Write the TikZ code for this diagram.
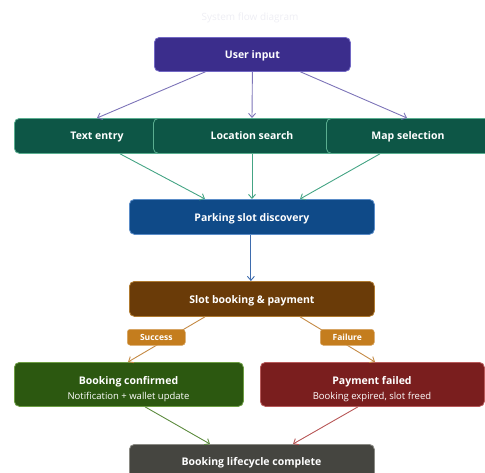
\documentclass[tikz,border=0pt]{standalone}
\usepackage{fontspec}
\setmainfont{Open Sans}
\usetikzlibrary{arrows.meta,calc}
\definecolor{cUser}{HTML}{3B2D8C}
\definecolor{cUserB}{HTML}{7268C4}
\definecolor{cTeal}{HTML}{0D5646}
\definecolor{cTealB}{HTML}{5AAE90}
\definecolor{cBlue}{HTML}{0F4A88}
\definecolor{cBlueB}{HTML}{5A8CC8}
\definecolor{cBrown}{HTML}{6A3B08}
\definecolor{cBrownB}{HTML}{B07A30}
\definecolor{cOrange}{HTML}{C47D1E}
\definecolor{cGreen}{HTML}{2C5810}
\definecolor{cGreenB}{HTML}{6E9E44}
\definecolor{cRed}{HTML}{7A1E1E}
\definecolor{cRedB}{HTML}{B85A5A}
\definecolor{cGray}{HTML}{454540}
\definecolor{cGrayB}{HTML}{8A8A84}
\definecolor{aUser}{HTML}{7D74B8}
\definecolor{aTeal}{HTML}{44A484}
\definecolor{aBlue}{HTML}{3E6CAE}
\definecolor{aOrange}{HTML}{C48A44}
\definecolor{aGreen}{HTML}{5E8C40}
\definecolor{aRed}{HTML}{B85858}
\definecolor{cTitle}{HTML}{EEEEF4}
\tikzset{
  box/.style={draw=#1, rounded corners=5pt, line width=0.8pt, text=white, font=\fontsize{10.5}{12}\selectfont\bfseries, inner sep=0pt, anchor=north west, text height=8.5pt, text depth=0pt},
  lbl/.style={text=white, font=\fontsize{10.5}{12}\selectfont\bfseries, inner sep=0pt, text height=8.5pt, text depth=0pt},
  sub/.style={text=white, font=\fontsize{9.5}{11}\selectfont, inner sep=0pt, text height=7.5pt, text depth=0pt},
  tag/.style={fill=cOrange, draw=cOrange!70!white, rounded corners=3pt, text=white, font=\fontsize{8.5}{10}\selectfont\bfseries, inner sep=0pt, anchor=north west, line width=0.5pt, text height=6.5pt, text depth=0.5pt},
  conn/.style={draw=#1, line width=0.9pt, -{Straight Barb[length=4pt,width=7pt]}},
}
\begin{document}
\begin{tikzpicture}[x=1pt,y=-1pt]
\useasboundingbox (0,0) rectangle (485,472);
\node[text=cTitle, font=\fontsize{10}{12}\selectfont] (title) at (250,17.5) {System flow diagram};
\node[box=cUserB, fill=cUser, minimum width=196pt, minimum height=34pt] (user) at (154,37) {User input};
\node[box=cTealB, fill=cTeal, minimum width=160pt, minimum height=35pt] (text) at (14,118) {};
\node[box=cTealB, fill=cTeal, minimum width=190pt, minimum height=35pt] (loc) at (153,118) {};
\node[box=cTealB, fill=cTeal, minimum width=175pt, minimum height=35pt] (map) at (326,118) {};
\node[lbl] (textL) at (97,135.5) {Text entry};
\node[lbl] (locL) at (252,135.5) {Location search};
\node[lbl] (mapL) at (408,135.5) {Map selection};
\node[box=cBlueB, fill=cBlue, minimum width=245pt, minimum height=35pt] (park) at (129,199) {Parking slot discovery};
\node[box=cBrownB, fill=cBrown, minimum width=245pt, minimum height=35pt] (slot) at (129,281) {Slot booking \& payment};
\node[box=cGreenB, fill=cGreen, minimum width=229pt, minimum height=44pt] (conf) at (14,362) {};
\node[lbl] (confL) at (128.5,380) {Booking confirmed};
\node[sub] (confS) at (128.5,395.5) {Notification + wallet update};
\node[box=cRedB, fill=cRed, minimum width=224pt, minimum height=44pt] (pfail) at (260,362) {};
\node[lbl] (pfailL) at (372,380) {Payment failed};
\node[sub] (pfailS) at (372,395.5) {Booking expired, slot freed};
\node[box=cGrayB, fill=cGray, minimum width=245pt, minimum height=36pt] (life) at (129,444) {};
\node[lbl] (lifeL) at (251.5,461) {Booking lifecycle complete};
% connectors
\draw[conn=aUser] ($(user.south)+(-47,0)$) -- ($(text.north west)+(83,0)$);
\draw[conn=aUser] (user.south) -- ($(loc.north west)+(99,0)$);
\draw[conn=aUser] ($(user.south)+(48,0)$) -- ($(map.north west)+(81,0)$);
\draw[conn=aTeal] ($(text.south west)+(106,0)$) -- ($(park.north west)+(76,0)$);
\draw[conn=aTeal] ($(loc.south west)+(99,0)$) -- ($(park.north west)+(123,0)$);
\draw[conn=aTeal] ($(map.south west)+(54,0)$) -- ($(park.north west)+(171,0)$);
\draw[conn=aBlue] ($(park.south)+(-1,0)$) -- ($(slot.north)+(-1,0)$);
\draw[conn=aOrange] ($(slot.south west)+(76,0)$) -- ($(conf.north west)+(114,0)$);
\draw[conn=aOrange] ($(slot.south west)+(171,0)$) -- ($(pfail.north west)+(115,0)$);
\draw[conn=aGreen] ($(conf.south west)+(131,0)$) -- ($(life.north west)+(81,0)$);
\draw[conn=aRed] ($(pfail.south west)+(98,0)$) -- ($(life.north west)+(164,0)$);
\node[tag, minimum width=58pt, minimum height=16pt] (succ) at (127,329) {Success};
\node[tag, minimum width=54pt, minimum height=16pt] (fail) at (320,329) {Failure};
\end{tikzpicture}
\end{document}
